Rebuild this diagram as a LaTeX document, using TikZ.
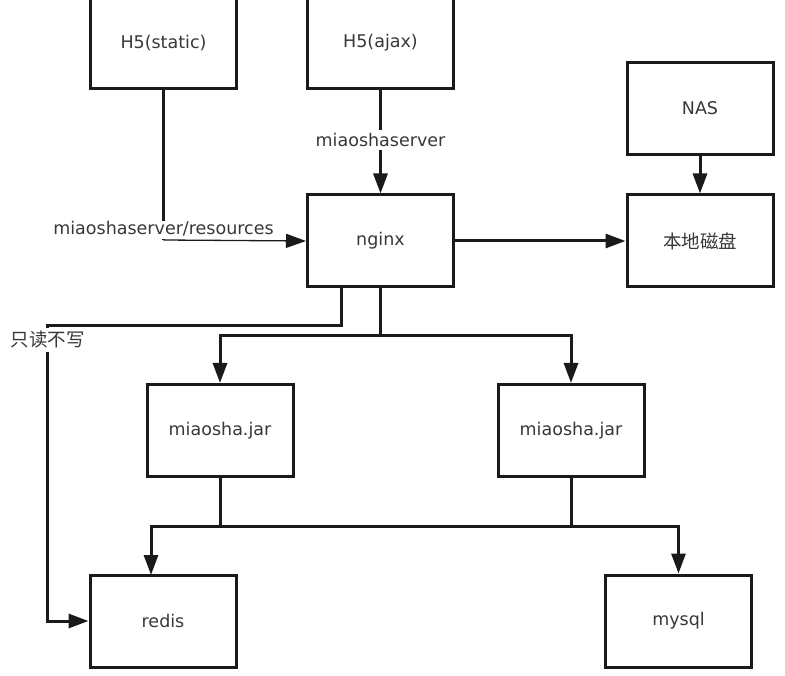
\documentclass[tikz,border=0pt]{standalone}
\usepackage{fontspec}
\setmainfont{DejaVu Sans}
\newfontfamily\cjk{Noto Sans CJK SC}
\usetikzlibrary{arrows.meta}
\definecolor{ln}{HTML}{1A1A1A}
\definecolor{tx}{HTML}{383838}
\begin{document}
\begin{tikzpicture}[x=1pt,y=-1pt,
  box/.style={draw=ln,line width=3pt,minimum width=146pt,minimum height=92pt,inner sep=0pt,
    text=tx,font=\fontsize{17.5}{20}\selectfont},
  conn/.style={draw=ln,line width=3pt},
  tip/.style={-{Triangle[length=20pt,width=14pt]}},
  arr/.style={conn,tip},
  lbl/.style={fill=white,text=tx,font=\fontsize{17.5}{20}\selectfont,inner xsep=2pt},
  cjklbl/.style={font=\fontsize{18.5}{20}\selectfont\cjk}
]
\useasboundingbox[fill=white] (0,0) rectangle (785,676);

\node[box] (h5s) at (163.5,43) {H5(static)};
\node[box] (h5a) at (380.5,43) {H5(ajax)};
\node[box] (nas) at (700,108.5) {NAS};
\node[box] (nginx) at (380.5,241) {nginx};
\node[box,cjklbl] (disk) at (700,241) {本地磁盘};
\node[box] (jar1) at (220,430.5) {miaosha.jar};
\node[box] (jar2) at (571,430.5) {miaosha.jar};
\node[box] (redis) at (163,621) {redis};
\node[box] (mysql) at (678.5,621) {mysql};

% static resources path
\coordinate (sc) at (163.5,240);
\draw[conn] (h5s.south) -- (sc);
\draw[draw=ln,line width=1.3pt,tip] (sc) -- (nginx.west);
\node[lbl,anchor=base,text depth=4pt,inner ysep=0.5pt] (lres) at (163.5,235) {miaoshaserver/resources};

% ajax path
\draw[arr] (h5a.south) -- (nginx.north) node[lbl,pos=0.48] (lajax) {miaoshaserver};

% NAS -> disk, nginx -> disk
\draw[arr] (nas.south) -- (disk.north);
\draw[arr] (nginx.east) -- (disk.west);

% read-only path
\coordinate (ro1) at (341,325.5);
\coordinate (ro2) at (47,325.5);
\draw[arr] (ro1 |- nginx.south) -- (ro1) -- (ro2) |- (redis.west);
\node[lbl,cjklbl,inner ysep=3pt,inner xsep=1pt] (lro) at (47.5,340) {只读不写};

% nginx -> jars
\coordinate (sp) at (380.5,335.5);
\draw[arr] (nginx.south) -- (sp) -| (jar1.north);
\draw[arr] (sp) -| (jar2.north);

% jars -> redis, mysql
\coordinate (bj) at (0,526);
\coordinate (rtop) at (151,575);
\draw[arr] (jar2.south) |- (rtop |- bj) -- (rtop);
\draw[arr] (jar1.south) |- (mysql.north |- bj) -- (mysql.north);
\end{tikzpicture}
\end{document}
